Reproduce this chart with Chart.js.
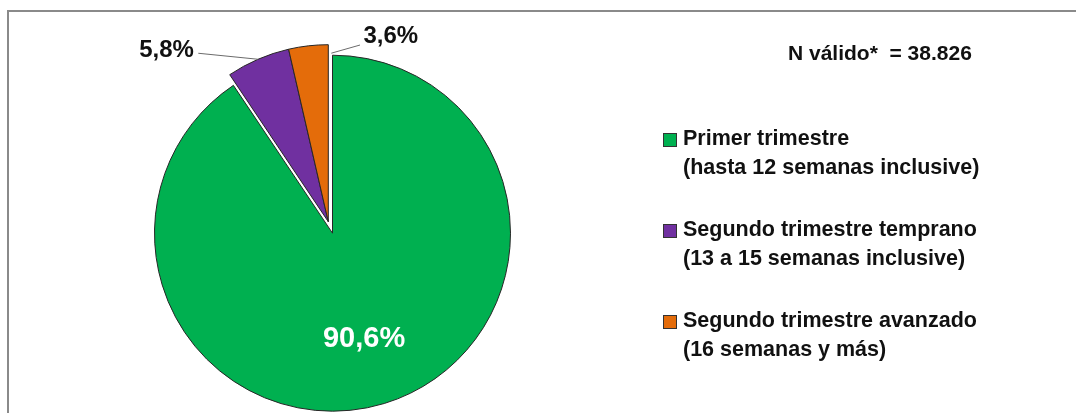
<!DOCTYPE html>
<html>
<head>
<meta charset="utf-8">
<script src="https://cdn.jsdelivr.net/npm/chart.js@4.4.1/dist/chart.umd.min.js"></script>
<style>
  html, body { margin: 0; padding: 0; background: #fff; }
  body { width: 1076px; height: 413px; position: relative; overflow: hidden; font-family: "Liberation Sans", Arial, sans-serif; }
  #frame { position: absolute; left: 7px; top: 10px; width: 1200px; height: 600px; border: 2px solid #8a8a8a; box-sizing: border-box; }
  canvas { position: absolute; left: 0; top: 0; }
  #nvalido { position: absolute; left: 788px; top: 38px; font-weight: bold; font-size: 21px; line-height: 29px; color: #111; white-space: pre; }
  .leg { position: absolute; left: 663px; }
  .leg .sw { position: absolute; left: 0; width: 12px; height: 12px; border: 1px solid #333; }
  .leg .tx { position: absolute; left: 20px; top: 0; font-weight: bold; font-size: 21.5px; line-height: 29px; color: #111; white-space: nowrap; }
</style>
</head>
<body>
<div id="frame"></div>
<canvas id="cA" width="1076" height="413"></canvas>
<canvas id="cB" width="1076" height="413"></canvas>
<div id="nvalido"></div>
<div id="legend"></div>
<script>
// ---- data ----
const categories = [
  ['Primer trimestre', '(hasta 12 semanas inclusive)'],
  ['Segundo trimestre temprano', '(13 a 15 semanas inclusive)'],
  ['Segundo trimestre avanzado', '(16 semanas y más)']
];
const values = [90.6, 5.8, 3.6];
const colors = ['#00B050', '#7030A0', '#E46C0A'];
const nText = 'N válido*  = 38.826';

// ---- helpers ----
const fmt = v => v.toFixed(1).replace('.', ',') + '%';
const FONT = '"Liberation Sans", Arial, sans-serif';

const labelPlugin = {
  id: 'sliceLabels',
  afterDatasetsDraw(chart, args, opts) {
    const ctx = chart.ctx;
    const meta = chart.getDatasetMeta(0);
    meta.data.forEach((arc, i) => {
      const p = (opts.placements || {})[i];
      if (!p) return;
      const {x, y, startAngle, endAngle, outerRadius} = arc.getProps(['x', 'y', 'startAngle', 'endAngle', 'outerRadius'], true);
      const mid = (startAngle + endAngle) / 2;
      const text = fmt(values[i]);
      ctx.save();
      ctx.font = 'bold ' + p.size + 'px ' + FONT;
      let cx, cy;
      if (p.inside) {
        cx = x + Math.cos(mid) * outerRadius * p.inside;
        cy = y + Math.sin(mid) * outerRadius * p.inside;
      } else {
        const ex = x + Math.cos(mid) * outerRadius;
        const ey = y + Math.sin(mid) * outerRadius;
        cx = ex + p.dx; cy = ey + p.dy;
        // leader line
        const a = p.lineFrom === 'end' ? endAngle : mid;
        const lx = x + Math.cos(a) * outerRadius * p.lineR + (p.lineNudge || 0);
        const ly = y + Math.sin(a) * outerRadius * p.lineR;
        ctx.strokeStyle = '#6b6b6b';
        ctx.lineWidth = 1;
        ctx.beginPath();
        ctx.moveTo(lx, ly);
        ctx.lineTo(cx + p.lineTo[0], cy + p.lineTo[1]);
        ctx.stroke();
      }
      ctx.fillStyle = p.color;
      ctx.textAlign = 'center';
      ctx.textBaseline = 'alphabetic';
      ctx.fillText(text, cx, cy + 0.358 * p.size);
      ctx.restore();
    });
  }
};

function makePie(id, visible, padding, radius, placements) {
  return new Chart(document.getElementById(id), {
    type: 'pie',
    data: {
      labels: categories.map(c => c.join(' ')),
      datasets: [{
        data: values,
        backgroundColor: colors.map((c, i) => visible.includes(i) ? c : 'rgba(0,0,0,0)'),
        borderColor: colors.map((c, i) => visible.includes(i) ? '#262626' : 'rgba(0,0,0,0)'),
        borderWidth: 1,
        clip: false
      }]
    },
    options: {
      responsive: false,
      devicePixelRatio: 1,
      animation: false,
      radius: radius,
      layout: { padding: padding },
      plugins: {
        legend: { display: false },
        tooltip: { enabled: false },
        sliceLabels: { placements: placements }
      },
      events: []
    },
    plugins: [labelPlugin]
  });
}

// green slice (exploded away from the other two)
makePie('cA', [0], { left: 0, right: 411, top: 53.4, bottom: 0 }, 178, {
  0: { inside: 0.61, size: 29, color: '#ffffff' }
});
// purple + orange slices
makePie('cB', [1, 2], { left: 0, right: 419.4, top: 30.4, bottom: 0 }, 177, {
  1: { size: 24, color: '#111', dx: -91.5, dy: -11.3, lineFrom: 'mid', lineR: 1.0, lineTo: [31.8, 5.3] },
  2: { size: 24, color: '#111', dx: 82.5, dy: -11.1, lineFrom: 'end', lineR: 0.952, lineNudge: 3, lineTo: [-30.8, 10.3] }
});

// N válido text
document.getElementById('nvalido').textContent = nText;

// legend built from categories
const legendTops = [124, 215, 306];
const leg = document.getElementById('legend');
categories.forEach((lines, i) => {
  const d = document.createElement('div');
  d.className = 'leg';
  d.style.top = legendTops[i] + 'px';
  const sw = document.createElement('div');
  sw.className = 'sw';
  sw.style.top = '9px';
  sw.style.background = colors[i];
  const tx = document.createElement('div');
  tx.className = 'tx';
  tx.innerHTML = lines.map(l => l.replace(/&/g, '&amp;').replace(/</g, '&lt;')).join('<br>');
  d.appendChild(sw); d.appendChild(tx);
  leg.appendChild(d);
});
</script>
</body>
</html>
